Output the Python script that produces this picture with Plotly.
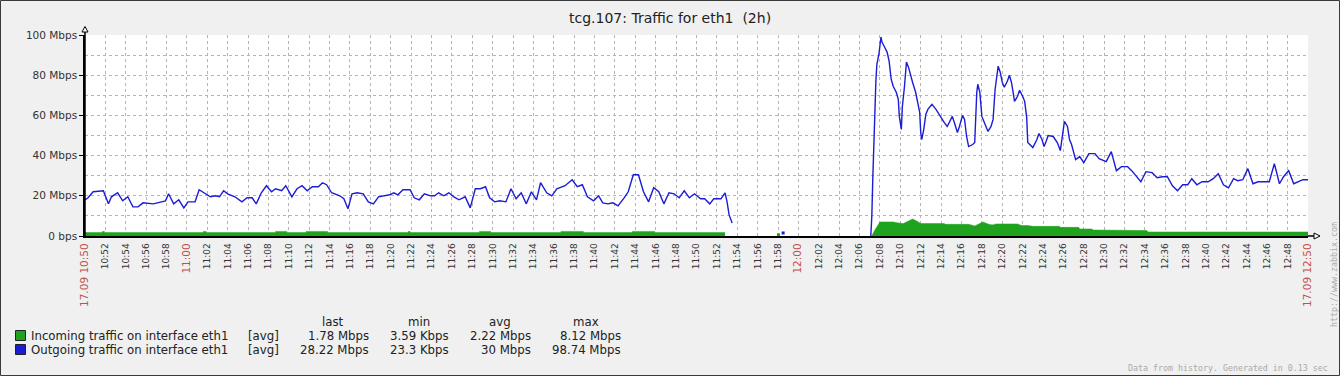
import plotly.graph_objects as go

# ---------------- data (minutes after 17.09 10:50) ----------------
out_t = [0, 0.3, 0.8, 1.8, 2.3, 2.6, 3.2, 3.7, 4.2, 4.7, 5.2, 5.7, 6.7, 7.4, 7.9, 8.2, 8.7, 9.2, 9.7, 10.1,
         10.8, 11.2, 11.8, 12.3, 12.8, 13.2, 13.6, 14.0, 14.7, 15.4, 15.9, 16.4, 16.8, 17.3, 17.8, 18.3, 18.7,
         19.3, 19.7, 20.3, 20.8, 21.3, 21.8, 22.3, 22.9, 23.3, 23.7, 24.2, 25.0, 25.4, 25.8, 26.2, 26.7, 27.3,
         27.8, 28.3, 28.8, 29.2, 29.9, 30.3, 30.7, 31.2, 31.9, 32.3, 32.8, 33.3, 33.9, 34.3, 34.7, 35.2, 35.7,
         36.2, 36.7, 37.3, 37.8, 38.3, 38.8, 39.3, 39.7, 40.2, 40.7, 41.3, 41.8, 42.3, 42.8, 43.3, 43.8, 44.3,
         44.7, 45.3, 45.8, 46.3, 47.1, 47.8, 48.3, 48.8, 49.3, 49.9, 50.4, 50.8, 51.3, 51.8, 52.3, 52.9, 53.3,
         53.8, 54.3, 54.8, 55.3, 55.8, 56.3, 56.8, 57.3, 57.8, 58.3, 58.8, 59.3, 59.8, 60.4, 60.8, 61.3, 61.7,
         62.4, 62.8, 63.0, 63.2, 63.5,
         64.0,
         68.5,
         69.0,
         77.1, 77.2, 77.3, 77.4, 77.5, 77.6, 77.7, 77.9, 78.1, 78.2, 78.4, 78.7, 78.9, 79.1, 79.3, 79.6, 79.8,
         79.9, 80.1, 80.2, 80.4, 80.6, 80.8, 81.0, 81.2, 81.5, 81.7, 81.9, 82.0, 82.1, 82.3, 82.5, 82.7, 83.1,
         83.5, 83.9, 84.3, 84.6, 84.8, 85.1, 85.3, 85.6, 85.8, 86.1, 86.3, 86.5, 86.7, 87.1, 87.3, 87.4, 87.5,
         87.6, 87.8, 88.0, 88.2, 88.4, 88.6, 88.9, 89.1, 89.3, 89.5, 89.6, 89.8, 90.0, 90.2, 90.5, 90.7, 90.9,
         91.1, 91.2, 91.5, 91.7, 92.0, 92.2, 92.4, 92.5, 92.7, 93.0, 93.4, 93.6, 93.9, 94.1, 94.3, 94.5, 95.0,
         95.4, 95.7, 95.9, 96.1, 96.4, 96.6, 96.8, 97.0, 97.2, 97.6, 98.0, 98.5, 99.1, 99.5, 100.2, 100.7,
         101.2, 101.7, 102.3, 102.7, 103.1, 103.6, 104.1, 104.7, 105.2, 105.7, 106.2, 106.7, 107.2, 107.7,
         108.2, 108.6, 109.1, 109.6, 110.2, 110.7, 111.2, 111.7, 112.2, 112.7, 113.1, 113.6, 114.1, 114.6,
         115.1, 116.2, 116.7, 117.2, 117.6, 118.1, 118.6, 119.2, 119.5, 120.0]
out_v = [18, 19, 22, 22.5, 16, 19.5, 21.5, 17.5, 19.5, 14.5, 14.5, 16.5, 16, 17, 17.5, 21, 16, 18, 14, 17,
         17, 23, 21, 19.5, 20, 19.5, 22.5, 21, 19.5, 17, 19, 19, 16, 21.5, 25, 22, 23.5,
         22.5, 25, 19.5, 23.5, 25, 22.5, 24.5, 24.5, 26.5, 25.5, 21.5, 20, 18.5, 13.5, 21, 21.5, 21,
         17, 16, 19.5, 20, 20.5, 21.5, 20.5, 23, 23, 19, 18, 21, 20, 20, 21.5, 20, 21.5,
         19.5, 18, 19.5, 14, 23.5, 23.5, 24.5, 19, 17, 17.5, 17, 23.5, 18.5, 21.5, 16, 22, 18,
         26.5, 21.5, 20, 23.5, 25, 28, 24.5, 25.5, 19.5, 17.5, 20, 16.5, 16, 16.5, 15, 19, 22,
         30.5, 30.5, 22, 17, 24, 22, 16, 21.5, 21, 19, 22.5, 19, 21, 18.5, 18.5, 16, 18.5,
         18.5, 21.5, 17, 10.5, 6.5,
         None,
         1.5,
         None,
         0, 9.5, 29, 48, 67, 77, 85.5, 90.5, 99, 96.5, 94.5, 91.5, 87, 78, 74.5, 71.5, 68,
         59.5, 53, 64.5, 74, 86.5, 84, 79.5, 76.5, 71.5, 66.5, 61.5, 51.5, 48, 53, 60.5, 63, 65.5,
         63, 59.5, 56.5, 54.5, 56.5, 59.5, 56.5, 51.5, 54.5, 60, 58, 49.5, 44.5, 45.5, 46.5, 64.5, 71.5,
         75.5, 71.5, 59.5, 57, 54.5, 52, 54.5, 58, 73, 82, 84.5, 81.5, 76.5, 74, 77, 80, 76.5,
         70.5, 67, 69.5, 72.5, 69.5, 67, 59, 46.5, 45.5, 44, 48, 51, 48, 44.5, 47, 50, 49.5,
         46.5, 42.5, 49.5, 57, 54.5, 48, 45.5, 41.5, 38, 39.5, 36.5, 41, 41, 38.5, 37, 42,
         32.5, 34.5, 34.5, 32.5, 30, 27, 32, 31.5, 29, 29.5, 29.5, 25, 22.5, 25.5,
         25.5, 28.5, 25.5, 27, 27, 28.5, 31, 25.5, 24, 28.5, 27.5, 28, 33.5, 26,
         27, 27, 36, 26, 29.5, 32.5, 26, 27.5, 28, 28]

in_t = [0, 1.7, 1.7, 1.9, 1.9, 11.6, 11.6, 11.9, 11.9, 18.7, 18.7, 19.8, 19.8, 21.7, 21.7, 23.8, 23.8,
        31.7, 31.7, 31.9, 31.9, 38.7, 38.7, 39.8, 39.8, 46.7, 46.7, 48.9, 48.9, 53.7, 53.7, 55.9, 55.9, 62.8,
        63.0,
        67.9, 68.2,
        68.5,
        77.2, 77.5, 78.0, 79.3, 79.8, 80.3, 80.8, 81.2, 81.6, 82.0, 84.3, 84.4, 86.7, 87.3, 87.7, 88.1,
        88.6, 89.0, 89.4, 91.5, 91.9, 92.5, 93.0, 95.6, 95.7, 97.5, 97.6, 98.8, 98.9, 102.2, 102.3,
        104.2, 104.3, 120.0]
in_v = [1.7, 1.7, 2.2, 2.2, 1.7, 1.7, 2.2, 2.2, 1.7, 1.7, 2.3, 2.3, 1.7, 1.7, 2.3, 2.3, 1.7,
        1.7, 2.2, 2.2, 1.7, 1.7, 2.3, 2.3, 1.7, 1.7, 2.3, 2.3, 1.7, 1.7, 2.3, 2.3, 1.7, 1.7,
        None,
        1.2, 1.2,
        None,
        0, 3, 7, 7, 6.5, 6.2, 7.5, 8.5, 7.5, 6.2, 6.2, 5.8, 5.8, 5.0, 6.0, 7.0,
        6.0, 5.5, 6.0, 6.0, 5.2, 5.2, 4.8, 4.8, 4.3, 4.3, 3.5, 3.5, 3.0, 3.0, 2.7,
        2.7, 2.0, 2.0]

x_tickvals = list(range(0, 121, 2))
x_ticklabels = ["17.09 10:50", "10:52", "10:54", "10:56", "10:58", "11:00", "11:02", "11:04", "11:06",
                "11:08", "11:10", "11:12", "11:14", "11:16", "11:18", "11:20", "11:22", "11:24", "11:26",
                "11:28", "11:30", "11:32", "11:34", "11:36", "11:38", "11:40", "11:42", "11:44", "11:46",
                "11:48", "11:50", "11:52", "11:54", "11:56", "11:58", "12:00", "12:02", "12:04", "12:06",
                "12:08", "12:10", "12:12", "12:14", "12:16", "12:18", "12:20", "12:22", "12:24", "12:26",
                "12:28", "12:30", "12:32", "12:34", "12:36", "12:38", "12:40", "12:42", "12:44", "12:46",
                "12:48", "17.09 12:50"]
x_highlight = ["17.09 10:50", "11:00", "12:00", "17.09 12:50"]

y_tickvals = [0, 20, 40, 60, 80, 100]
y_ticklabels = ["0 bps", "20 Mbps", "40 Mbps", "60 Mbps", "80 Mbps", "100 Mbps"]

series_names = ["Incoming traffic on interface eth1", "Outgoing traffic on interface eth1"]
series_colors = ["#1fa31f", "#1c1cd6"]
legend_func = ["[avg]", "[avg]"]
legend_last = ["1.78 Mbps", "28.22 Mbps"]
legend_min = ["3.59 Kbps", "23.3 Kbps"]
legend_avg = ["2.22 Mbps", "30 Mbps"]
legend_max = ["8.12 Mbps", "98.74 Mbps"]

title_text = "tcg.107: Traffic for eth1\u00a0\u00a0(2h)"

# ---------------- geometry ----------------
W, H = 1340, 376
L, R, T, B = 85, 1308, 35, 236
FONT = "DejaVu Sans"


def px(x):
    return (x - L) / (R - L)


def py(y):
    return (B - y) / (B - T)


def segments(ts, vs):
    """Split a series at its missing samples (None) into contiguous pieces."""
    out, cur_t, cur_v = [], [], []
    for t, v in zip(ts, vs):
        if v is None:
            if cur_t:
                out.append((cur_t, cur_v))
            cur_t, cur_v = [], []
        else:
            cur_t.append(t)
            cur_v.append(v)
    if cur_t:
        out.append((cur_t, cur_v))
    return out


fig = go.Figure()

# incoming: filled area, one trace per contiguous piece so gaps stay empty
for k, (st, sv) in enumerate(segments(in_t, in_v)):
    fig.add_trace(go.Scatter(
        x=st, y=sv, mode="lines", name=series_names[0], legendgroup="in", showlegend=(k == 0),
        line=dict(color=series_colors[0], width=0.5), fill="tozeroy",
        fillcolor=series_colors[0], hoverinfo="skip"))

# outgoing: line, isolated samples drawn as small dots
for k, (st, sv) in enumerate(segments(out_t, out_v)):
    if len(st) > 1:
        fig.add_trace(go.Scatter(
            x=st, y=sv, mode="lines", name=series_names[1], legendgroup="out", showlegend=False,
            line=dict(color=series_colors[1], width=1.4), hoverinfo="skip"))
    else:
        fig.add_trace(go.Scatter(
            x=st, y=sv, mode="markers", name=series_names[1], legendgroup="out", showlegend=False,
            hoverinfo="skip",
            marker=dict(symbol="square", size=3, color=series_colors[1], line=dict(width=0))))

ticktext = []
for lab in x_ticklabels:
    if lab in x_highlight:
        ticktext.append('<span style="color:#c0504d;font-size:10.5px">%s</span>' % lab)
    else:
        ticktext.append(lab)

grid = dict(gridcolor="#b4b4b4", gridwidth=1, griddash="3px,3px")

fig.update_xaxes(range=[0, 120], tickvals=x_tickvals, ticktext=ticktext, tickangle=-90,
                 tickfont=dict(family=FONT, size=9, color="#333333"), showgrid=True, **grid,
                 showline=True, linecolor="black", linewidth=1.5, ticks="outside", ticklen=2,
                 tickcolor="rgba(0,0,0,0)", zeroline=False, fixedrange=True)
fig.update_yaxes(range=[0, 100], tickvals=y_tickvals, ticktext=y_ticklabels,
                 tickfont=dict(family=FONT, size=10.5, color="#333333"), showgrid=True, **grid,
                 minor=dict(dtick=10, tick0=0, showgrid=True, gridcolor="#b4b4b4", griddash="3px,3px",
                            ticks=""),
                 showline=True, linecolor="black", linewidth=1.5, ticks="outside", ticklen=4,
                 tickcolor="black", zeroline=False, fixedrange=True)

shapes = []
# outer frame
shapes.append(dict(type="rect", xref="paper", yref="paper", x0=px(0.5), x1=px(W - 0.5),
                   y0=py(0.5), y1=py(H - 0.5), line=dict(color="#3a3a3a", width=1), layer="above"))
# axis extensions with arrow heads
shapes.append(dict(type="line", xref="paper", yref="paper", x0=px(L), x1=px(L), y0=py(B), y1=py(31),
                   line=dict(color="black", width=1.5)))
shapes.append(dict(type="path", xref="paper", yref="paper",
                   path="M %f,%f L %f,%f L %f,%f Z" % (px(82), py(32), px(88), py(32), px(85), py(26.5)),
                   fillcolor="white", line=dict(color="black", width=1)))
shapes.append(dict(type="line", xref="paper", yref="paper", x0=px(R), x1=px(1316), y0=py(B), y1=py(B),
                   line=dict(color="black", width=1.5)))
shapes.append(dict(type="path", xref="paper", yref="paper",
                   path="M %f,%f L %f,%f L %f,%f Z" % (px(1314), py(B - 3), px(1314), py(B + 3), px(1320), py(B)),
                   fillcolor="white", line=dict(color="black", width=1)))
# legend colour boxes
for i, c in enumerate(series_colors):
    y0 = 330.5 + i * 14
    shapes.append(dict(type="rect", xref="paper", yref="paper", x0=px(15.5), x1=px(25.5),
                       y0=py(y0), y1=py(y0 + 10), fillcolor=c, line=dict(color="#222222", width=1)))

ann = []
LF = dict(family=FONT, size=11.75, color="#222222")


def text(x, y, s, anchor="left", font=LF, **kw):
    ann.append(dict(x=px(x), y=py(y), xref="paper", yref="paper", text=s, showarrow=False,
                    xanchor=anchor, yanchor="middle", font=font, **kw))


text(670, 18, title_text, "center", dict(family=FONT, size=14, color="#222222"))
for hx, h in [(333, "last"), (419, "min"), (500, "avg"), (586, "max")]:
    text(hx, 322, h, "center")
for i in range(2):
    yy = 335.5 + i * 14
    text(29, yy, series_names[i], "left")
    text(263, yy, legend_func[i], "center")
    text(371, yy, legend_last[i], "right")
    text(451, yy, legend_min[i], "right")
    text(533, yy, legend_avg[i], "right")
    text(623, yy, legend_max[i], "right")

SMALL = dict(family="DejaVu Sans Mono", size=8.3, color="#aaaaaa")
text(1330, 368, "Data from history. Generated in 0.13 sec", "right", SMALL)
ann.append(dict(x=px(1334), y=py(275), xref="paper", yref="paper", text="http://www.zabbix.com",
                showarrow=False, textangle=-90, xanchor="center", yanchor="middle", font=SMALL))

fig.update_layout(
    width=W, height=H, margin=dict(l=L, r=W - R, t=T, b=H - B),
    paper_bgcolor="#f0f0f0", plot_bgcolor="white", showlegend=False,
    shapes=shapes, annotations=ann, hovermode=False,
)

fig.write_html("out.html", config={"displayModeBar": False})
